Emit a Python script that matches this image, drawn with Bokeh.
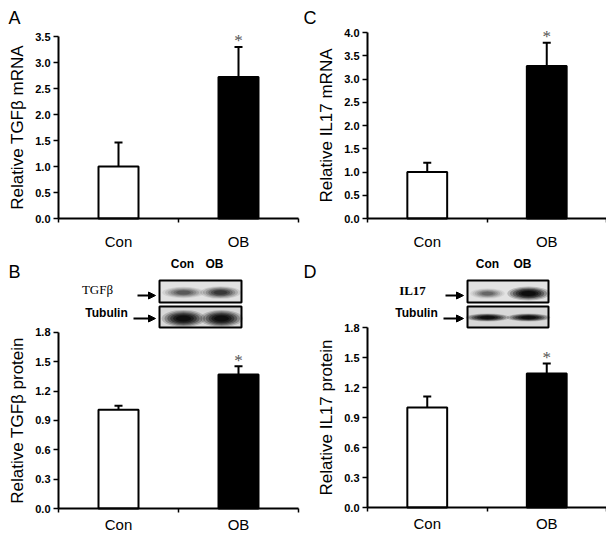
from bokeh.plotting import figure
from bokeh.models import (Range1d, FixedTicker, PrintfTickFormatter, Arrow,
                          NormalHead, Whisker, TeeHead, ColumnDataSource)
from bokeh.layouts import column, row
from bokeh.embed import file_html
from bokeh.resources import INLINE
from bokeh.core.properties import value

# ---------------- data ----------------
categories = ["Con", "OB"]
significance = ["", "*"]

tgfb_mrna = [1.00, 2.72]
tgfb_mrna_err = [0.46, 0.58]
il17_mrna = [1.00, 3.28]
il17_mrna_err = [0.20, 0.50]
tgfb_protein = [1.01, 1.37]
tgfb_protein_err = [0.04, 0.085]
il17_protein = [1.00, 1.34]
il17_protein_err = [0.11, 0.10]

mrna_a_ticks = [0.0, 0.5, 1.0, 1.5, 2.0, 2.5, 3.0, 3.5]
mrna_c_ticks = [0.0, 0.5, 1.0, 1.5, 2.0, 2.5, 3.0, 3.5, 4.0]
protein_ticks = [0.0, 0.3, 0.6, 0.9, 1.2, 1.5, 1.8]

SANS = "Liberation Sans"
SERIF = "Liberation Serif"


class Panel:
    """A figure whose frame fills the whole figure; axes drawn at fixed locations."""

    def __init__(self, fig_box, x0_px, x_unit_px, y0_px, y_unit_px):
        left, top, w, h = fig_box
        self.left, self.top = left, top
        self.x0, self.xu, self.y0, self.yu = x0_px, x_unit_px, y0_px, y_unit_px
        xs = (left - x0_px) / x_unit_px
        xe = (left + w - x0_px) / x_unit_px
        ye = (y0_px - top) / y_unit_px
        ys = (y0_px - (top + h)) / y_unit_px
        self.p = figure(width=w, height=h, output_backend="svg", toolbar_location=None,
                        x_range=Range1d(xs, xe), y_range=Range1d(ys, ye),
                        min_border=0)
        p = self.p
        p.outline_line_color = None
        p.xgrid.visible = False
        p.ygrid.visible = False
        p.background_fill_color = "white"
        p.border_fill_color = "white"

    def X(self, px):
        return (px - self.x0) / self.xu

    def Y(self, py):
        return (self.y0 - py) / self.yu


def make_panel(pan, letter, letter_px, ylabel, means, errs, yticks, label_standoff):
    p = pan.p
    xs = [i + 0.5 for i in range(len(categories))]
    upper = [m + e for m, e in zip(means, errs)]
    src = ColumnDataSource(dict(x=xs, top=means, upper=upper, sig=significance,
                                fill=["white", "black"]))

    p.vbar(x="x", top="top", width=1 / 3, bottom=0, source=src,
           fill_color="fill", line_color="black", line_width=2)
    wh = Whisker(base="x", lower="top", upper="upper", source=src, dimension="height",
                 line_color="black", line_width=2, lower_head=None,
                 upper_head=TeeHead(size=8, line_color="black", line_width=2))
    p.add_layout(wh)
    p.text(x="x", y="upper", text="sig", source=src, text_font=value(SERIF),
           text_font_size="17px", text_align="center", text_baseline="middle",
           text_color="#555555", y_offset=-6)

    # x axis
    xa = p.xaxis[0]
    xa.fixed_location = 0
    xa.bounds = (0, len(categories))
    xa.ticker = FixedTicker(ticks=xs, minor_ticks=list(range(len(categories) + 1)))
    xa.major_label_overrides = {x: c for x, c in zip(xs, categories)}
    xa.major_tick_out = 0
    xa.major_tick_in = 0
    xa.minor_tick_out = 4
    xa.minor_tick_in = 0
    xa.minor_tick_line_width = 1.5
    xa.axis_line_width = 2
    xa.major_label_text_font = SANS
    xa.major_label_text_font_size = "15px"
    xa.major_label_text_color = "black"
    xa.major_label_standoff = label_standoff

    # y axis
    ya = p.yaxis[0]
    ya.fixed_location = 0
    ya.ticker = FixedTicker(ticks=yticks)
    ya.formatter = PrintfTickFormatter(format="%.1f")
    ya.bounds = (0, yticks[-1])
    ya.major_tick_out = 5
    ya.major_tick_in = 0
    ya.major_tick_line_width = 1.5
    ya.axis_line_width = 2
    ya.major_label_text_font = SANS
    ya.major_label_text_font_style = "bold"
    ya.major_label_text_font_size = "11px"
    ya.major_label_text_color = "black"
    ya.major_label_standoff = 3
    ya.axis_label = ylabel
    ya.axis_label_text_font = SANS
    ya.axis_label_text_font_style = "normal"
    ya.axis_label_text_font_size = "17px"
    ya.axis_label_text_color = "black"
    ya.axis_label_standoff = 5

    lx, ly = letter_px
    p.text(x=[pan.X(lx)], y=[pan.Y(ly)], text=[letter], text_font=value(SANS),
           text_font_size="18px", text_baseline="top", text_align="left",
           text_color="black")


def add_blot(pan, box_px, top_px, bot_px, lane_px, lane_y, prot_label, prot_style,
             prot_px, prot_arrow, tub_px, tub_arrow, prot_bands, tub_bands):
    p = pan.p
    X, Y = pan.X, pan.Y
    x0, x1 = X(box_px[0]), X(box_px[1])
    tops = [Y(top_px[0]), Y(bot_px[0])]
    bots = [Y(top_px[1]), Y(bot_px[1])]
    p.quad(left=[x0, x0], right=[x1, x1], bottom=bots, top=tops,
           fill_color=["#e2e2e2", "#d8d8d8"], line_color=None)
    layers = [(1.15, 0.10), (1.0, 0.14), (0.85, 0.18), (0.7, 0.22), (0.55, 0.26), (0.4, 0.3)]
    for (bx, by, bw, bh, alpha) in prot_bands + tub_bands:
        for s, a in layers:
            p.ellipse(x=[X(bx)], y=[Y(by)], width=[bw * s / pan.xu], height=[bh * s / pan.yu],
                      fill_color="black", fill_alpha=min(1.0, a * alpha), line_color=None)
    p.quad(left=[x0, x0], right=[x1, x1], bottom=bots, top=tops,
           fill_color=None, line_color="black", line_width=2)
    p.text(x=[X(v) for v in lane_px], y=[Y(lane_y)] * len(lane_px), text=categories,
           text_font=value(SANS), text_font_size="12px", text_font_style="bold",
           text_align="center", text_baseline="middle", text_color="black")
    p.text(x=[X(prot_px[0])], y=[Y(prot_px[1])], text=[prot_label], text_font=value(SERIF),
           text_font_size="13px", text_font_style=prot_style, text_align="center",
           text_baseline="middle", text_color="black")
    p.text(x=[X(tub_px[0])], y=[Y(tub_px[1])], text=["Tubulin"], text_font=value(SANS),
           text_font_size="12px", text_font_style="bold", text_align="center",
           text_baseline="middle", text_color="black")
    for (a0, a1, ay) in [prot_arrow, tub_arrow]:
        p.add_layout(Arrow(x_start=X(a0), y_start=Y(ay), x_end=X(a1), y_end=Y(ay),
                           line_width=2, line_color="black",
                           end=NormalHead(size=7, fill_color="black", line_color="black")))


# layout boxes (left, top, width, height) in page pixels
A = Panel((0, 0, 300, 254), 58, 120, 218, 52)
C = Panel((300, 0, 306, 254), 367, 119.5, 218, 46.5)
B = Panel((0, 254, 300, 280), 58, 120, 508, 97.8)
D = Panel((300, 254, 306, 280), 367, 119.5, 507, 100)

make_panel(A, "A", (8, 7), "Relative TGF\u03b2 mRNA", tgfb_mrna, tgfb_mrna_err, mrna_a_ticks, 10)
make_panel(C, "C", (303, 7), "Relative IL17 mRNA", il17_mrna, il17_mrna_err, mrna_c_ticks, 10)
make_panel(B, "B", (8, 261), "Relative TGF\u03b2 protein", tgfb_protein, tgfb_protein_err,
           protein_ticks, 3)
make_panel(D, "D", (303, 261), "Relative IL17 protein", il17_protein, il17_protein_err,
           protein_ticks, 3)

add_blot(B, (159, 241), (280, 302), (306, 327), [182, 214], 263, "TGF\u03b2", "normal",
         (97, 289), (137, 155, 295), (106, 312), (133, 155, 318),
         [(183, 292, 37, 10, 0.7), (220, 292, 35, 11, 1.0)],
         [(183, 318, 38, 15, 1.7), (221, 318, 37, 15, 1.7)])
add_blot(D, (467, 548), (280, 302), (306, 327), [487, 522], 263, "IL17", "bold",
         (412, 290), (445, 463, 295), (416, 312), (443, 463, 318),
         [(487, 293, 30, 9, 0.6), (528, 293, 37, 12, 1.8)],
         [(487, 317, 38, 7, 1.7), (528, 317, 38, 7, 1.7)])

layout = column(row(A.p, C.p), row(B.p, D.p))
open("out.html", "w").write(file_html(layout, INLINE))
